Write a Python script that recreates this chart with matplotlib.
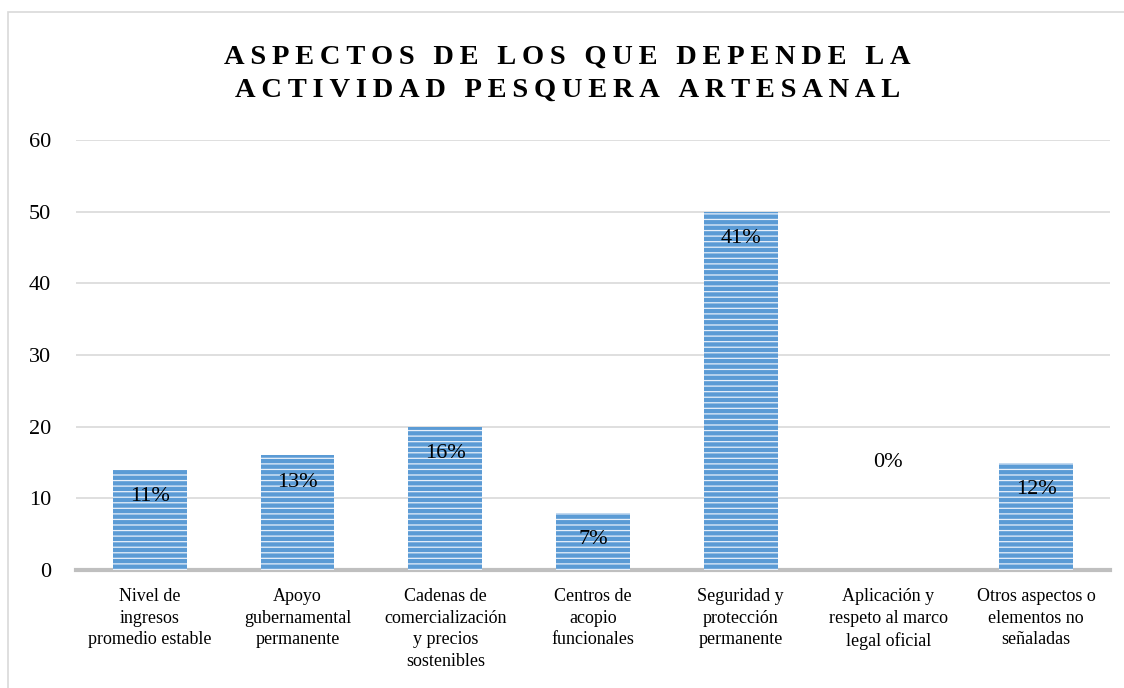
import numpy as np
import matplotlib.pyplot as plt
from matplotlib.patches import Rectangle

categories = [
    "Nivel de\ningresos\npromedio estable",
    "Apoyo\ngubernamental\npermanente",
    "Cadenas de\ncomercialización\ny precios\nsostenibles",
    "Centros de\nacopio\nfuncionales",
    "Seguridad y\nprotección\npermanente",
    "Aplicación y\nrespeto al marco\nlegal oficial",
    "Otros aspectos o\nelementos no\nseñaladas",
]
values = [14, 16, 20, 8, 50, 0, 15]
pct_labels = ["11%", "13%", "16%", "7%", "41%", "0%", "12%"]
title_lines = ["ASPECTOS DE LOS QUE DEPENDE LA", "ACTIVIDAD PESQUERA ARTESANAL"]

plt.rcParams['font.family'] = ['Liberation Serif', 'DejaVu Serif']
plt.rcParams['hatch.linewidth'] = 0.9

fig = plt.figure(figsize=(11.24, 6.88), dpi=100)
ax = fig.add_axes([76/1124, 1 - 570/688, (1110 - 76)/1124, (570 - 140)/688])

x = np.arange(len(values))
ax.bar(x, values, width=0.5, color='#5b9bd5', edgecolor='#e8f0fa',
       hatch='---', linewidth=0, zorder=3)

# labels sit a fixed offset under the bar top
for xi, v, lab in zip(x, values, pct_labels):
    y = v - 3.8 if v > 0 else 15
    ax.text(xi, y, lab, ha='center', va='center', fontsize=16, zorder=4)

ax.set_ylim(0, 60)
ax.set_xlim(-0.5, len(values) - 0.5)
ax.set_yticks(range(0, 61, 10))
ax.yaxis.grid(True, color='#d9d9d9', linewidth=1.2, zorder=0)
ax.set_axisbelow(True)
ax.tick_params(axis='y', length=0, labelsize=16, pad=18)
ax.tick_params(axis='x', length=0, labelsize=13, pad=13)
ax.set_xticks(x)
ax.set_xticklabels(categories, linespacing=1.36, va='top')
for s in ['left', 'right', 'top']:
    ax.spines[s].set_visible(False)
ax.spines['bottom'].set_color('#bfbfbf')
ax.spines['bottom'].set_linewidth(3)

# letter-spaced title
for i, line in enumerate(title_lines):
    spaced = "\u2009".join(line)
    fig.text(0.505, 1 - (57 + 33 * i)/688, spaced, ha='center', va='center',
             fontsize=20.5, fontweight='bold')

fig.patches.append(Rectangle((8/1124, -0.01), 1.2, 1 - 12/688 + 0.01,
                             transform=fig.transFigure, fill=False,
                             edgecolor='#d9d9d9', linewidth=1.2))

fig.savefig("out.png", dpi=100)
